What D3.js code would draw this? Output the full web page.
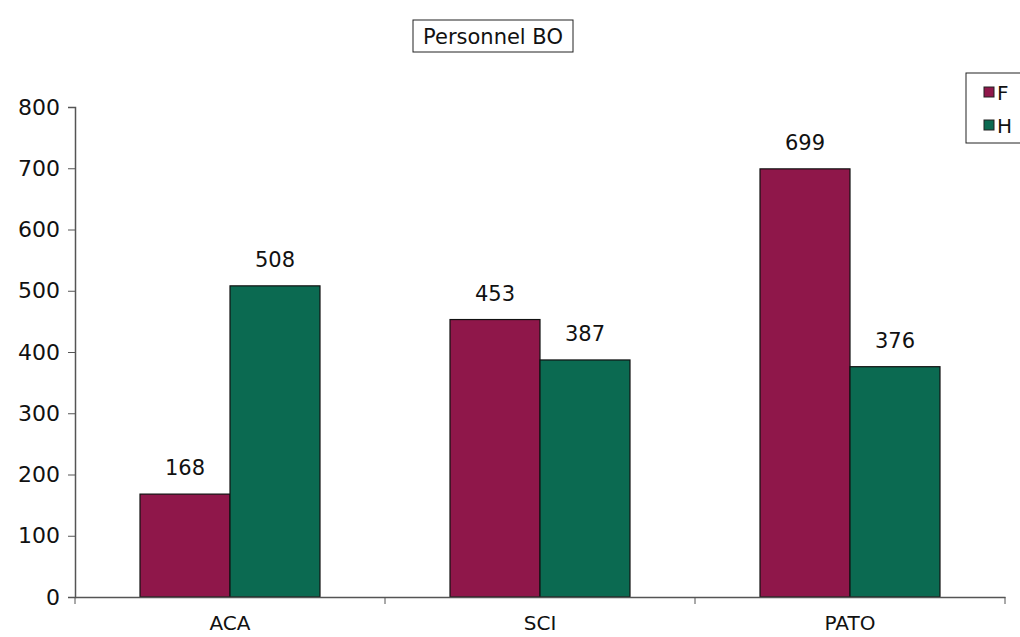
<!DOCTYPE html>
<html>
<head>
<meta charset="utf-8">
<script src="https://cdn.jsdelivr.net/npm/d3@7"></script>
<style>
  body { margin: 0; background: #fff; }
  text { font-family: "DejaVu Sans", Verdana, sans-serif; fill: #111; }
</style>
</head>
<body>
<div id="chart"></div>
<script>
// Data
const categories = ['ACA', 'SCI', 'PATO'];
const seriesNames = ['F', 'H'];
const valuesF = [168, 453, 699];
const valuesH = [508, 387, 376];
const yTicks = [0, 100, 200, 300, 400, 500, 600, 700, 800];
const colors = ['#8f174a', '#0b6a51'];

const width = 1020;
const height = 637;
const margin = { top: 107, right: 15, bottom: 40, left: 75 };

const svg = d3.select('#chart')
  .append('svg')
  .attr('width', width)
  .attr('height', height);

const x = d3.scaleBand()
  .domain(categories)
  .range([margin.left, width - margin.right]);

const y = d3.scaleLinear()
  .domain([0, 800])
  .range([height - margin.bottom, margin.top]);

const inner = d3.scaleBand()
  .domain(seriesNames)
  .range([0, 180]);

const rows = categories.map((c, i) => ({ cat: c, F: valuesF[i], H: valuesH[i] }));

// Bars
const groups = svg.selectAll('g.grp')
  .data(rows)
  .enter()
  .append('g')
  .attr('transform', (d) => 'translate(' + (x(d.cat) + x.bandwidth() / 2 - 90) + ',0)');

groups.selectAll('rect')
  .data((d) => seriesNames.map((s) => ({ key: s, value: d[s] })))
  .enter()
  .append('rect')
  .attr('x', (d) => inner(d.key))
  .attr('y', (d) => y(d.value))
  .attr('width', inner.bandwidth())
  .attr('height', (d) => y(0) - y(d.value))
  .attr('fill', (d, i) => colors[i])
  .attr('stroke', '#111')
  .attr('stroke-width', 1.2);

groups.selectAll('text.val')
  .data((d) => seriesNames.map((s) => ({ key: s, value: d[s] })))
  .enter()
  .append('text')
  .attr('class', 'val')
  .attr('x', (d) => inner(d.key) + inner.bandwidth() / 2)
  .attr('y', (d) => y(d.value) - 19)
  .attr('text-anchor', 'middle')
  .style('font-size', '21px')
  .text((d) => d.value);

// Y axis
const yAxis = svg.append('g')
  .attr('transform', 'translate(' + margin.left + ',0)')
  .call(d3.axisLeft(y).tickValues(yTicks).tickSize(7).tickPadding(8));
yAxis.selectAll('text').style('font-size', '22px');

// X axis
const xAxis = svg.append('g')
  .attr('transform', 'translate(0,' + y(0) + ')')
  .call(d3.axisBottom(x).tickSize(0).tickPadding(19));
xAxis.selectAll('text').style('font-size', '20px');
xAxis.selectAll('.tickmark')
  .data(categories.concat(['end']))
  .enter()
  .append('line')
  .attr('class', 'tickmark')
  .attr('x1', (d, i) => i < categories.length ? x(d) : x.range()[1])
  .attr('x2', (d, i) => i < categories.length ? x(d) : x.range()[1])
  .attr('y1', 0)
  .attr('y2', 7)
  .attr('stroke', '#555');

svg.selectAll('.domain').attr('stroke', '#555').attr('stroke-width', 1.5);
svg.selectAll('.tick line').attr('stroke', '#555');

// Title
const titleG = svg.append('g');
titleG.append('rect')
  .attr('x', 413).attr('y', 20).attr('width', 160).attr('height', 32)
  .attr('fill', '#fff').attr('stroke', '#222');
titleG.append('text')
  .attr('x', 493).attr('y', 44)
  .attr('text-anchor', 'middle')
  .style('font-size', '21px')
  .text('Personnel BO');

// Legend
const legend = svg.append('g');
legend.append('rect')
  .attr('x', 966).attr('y', 73).attr('width', 60).attr('height', 70)
  .attr('fill', '#fff').attr('stroke', '#222');
seriesNames.forEach((s, i) => {
  legend.append('rect')
    .attr('x', 984).attr('y', 87 + i * 33)
    .attr('width', 10).attr('height', 10)
    .attr('fill', colors[i]).attr('stroke', '#222');
  legend.append('text')
    .attr('x', 997).attr('y', 100 + i * 33)
    .style('font-size', '20px')
    .text(s);
});
</script>
</body>
</html>
